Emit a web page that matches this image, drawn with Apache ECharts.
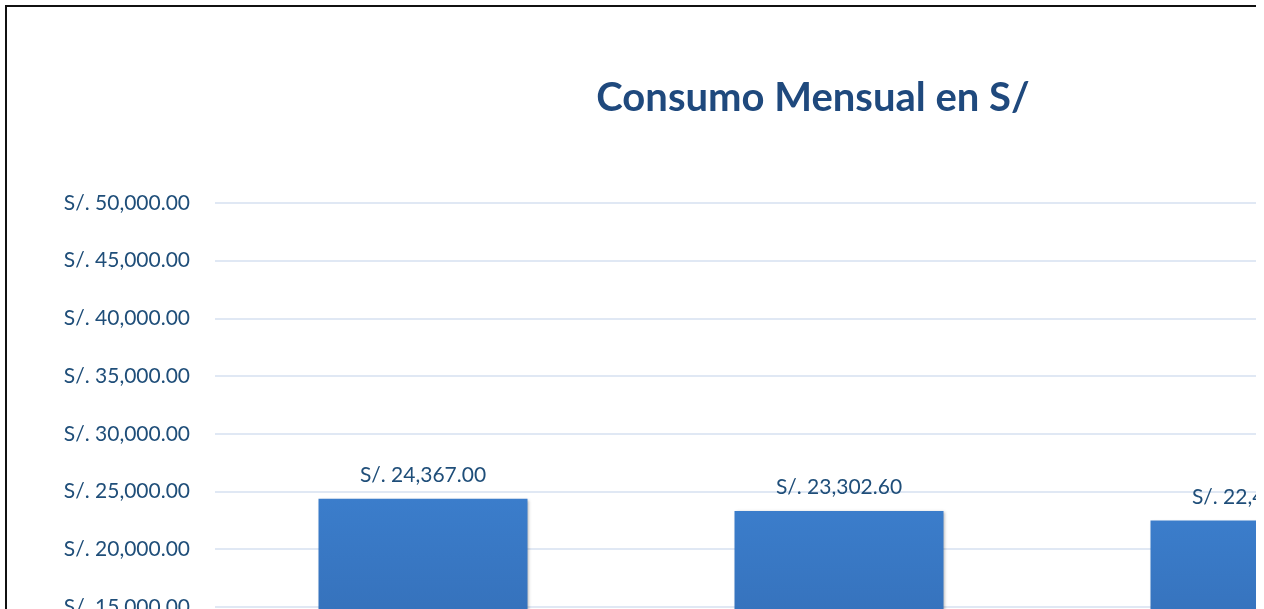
<!DOCTYPE html>
<html>
<head>
<meta charset="utf-8">
<script src="https://cdn.jsdelivr.net/npm/echarts@6/dist/echarts.min.js"></script>
<style>
  html, body { margin: 0; padding: 0; background: #fff; overflow: hidden; }
  #clip { position: absolute; left: 0; top: 0; width: 1256px; height: 609px; overflow: hidden; }
  #frame { position: absolute; left: 5px; top: 5px; width: 1614px; height: 900px;
           border-top: 2px solid #111; border-left: 2px solid #111; box-sizing: border-box; }
  #chart { position: absolute; left: 0; top: 0; width: 1612px; height: 898px; }
</style>
</head>
<body>
<div id="clip"><div id="frame"><div id="chart"></div></div></div>
<script>
const categories = ['Enero', 'Febrero', 'Marzo'];
const consumo = [24367.00, 23302.60, 22485.00];
const yTicks = { min: 0, max: 50000, interval: 5000 };

function money(v) {
  return 'S/. ' + Number(v).toLocaleString('en-US', { minimumFractionDigits: 2, maximumFractionDigits: 2 });
}

const chart = echarts.init(document.getElementById('chart'));
chart.setOption({
  animation: false,
  title: {
    text: 'Consumo Mensual en S/',
    left: 'center',
    top: 66,
    textStyle: { fontFamily: 'Lato', fontWeight: 'bold', fontSize: 40, color: '#1F497D' }
  },
  grid: { left: 208, top: 196, width: 1248, height: 577 },
  xAxis: {
    type: 'category',
    data: categories,
    axisLine: { lineStyle: { color: '#D6E0F0' } },
    axisTick: { show: false },
    axisLabel: { fontFamily: 'Lato', fontSize: 21, color: '#1F4E79' }
  },
  yAxis: {
    type: 'value',
    min: yTicks.min, max: yTicks.max, interval: yTicks.interval,
    axisLine: { show: false },
    axisTick: { show: false },
    splitLine: { lineStyle: { color: '#D6E0F0', width: 1.5 } },
    axisLabel: { fontFamily: 'Lato', fontSize: 21, color: '#1F4E79', margin: 25, formatter: money }
  },
  series: [{
    type: 'bar',
    data: consumo,
    barWidth: 209,
    itemStyle: {
      color: new echarts.graphic.LinearGradient(0, 0, 0, 1, [
        { offset: 0, color: '#3B7DCB' },
        { offset: 1, color: '#2E62A6' }
      ]),
      shadowBlur: 3, shadowColor: 'rgba(0,0,0,0.3)', shadowOffsetX: 1, shadowOffsetY: 1
    },
    label: {
      show: true, position: 'top', distance: 13,
      fontFamily: 'Lato', fontSize: 21, color: '#1F4E79',
      formatter: p => money(p.value)
    }
  }]
});
</script>
</body>
</html>
